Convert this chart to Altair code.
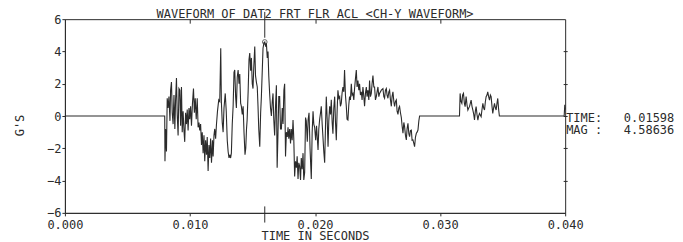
import altair as alt
import pandas as pd

title_text = "WAVEFORM OF DAT2 FRT FLR ACL <CH-Y WAVEFORM>"
x_title = "TIME IN SECONDS"
y_title = "G'S"
x_ticks = [0.0, 0.01, 0.02, 0.03, 0.04]
y_ticks = [-6, -4, -2, 0, 2, 4, 6]
cursor_time = 0.01598
cursor_mag = 4.58636
cursor_top_span = [6.45, 4.85]
cursor_bottom_span = [-5.6, -6.6]
readout_lines = ["TIME:\u00a0\u00a0\u00a00.01598", "MAG\u00a0:\u00a0\u00a0\u00a04.58636"]

# waveform: time in milliseconds, acceleration in G's
time_ms = [
    0.0, 7.98, 8.0, 8.05, 8.12, 8.18, 8.25, 8.32, 8.40, 8.45,
    8.52, 8.58, 8.65, 8.72, 8.79, 8.85, 8.92, 8.98, 9.05, 9.12,
    9.19, 9.25, 9.32, 9.38, 9.45, 9.52, 9.58, 9.65, 9.72, 9.78,
    9.85, 9.92, 9.98, 10.05, 10.12, 10.20, 10.28, 10.35, 10.42, 10.50,
    10.58, 10.65, 10.72, 10.78, 10.85, 10.92, 10.98, 11.05, 11.12, 11.18,
    11.25, 11.32, 11.38, 11.45, 11.52, 11.58, 11.65, 11.72, 11.80, 11.85,
    11.92, 11.98, 12.05, 12.12, 12.20, 12.30, 12.38, 12.46, 12.51, 12.58,
    12.65, 12.72, 12.82, 12.90, 12.98, 13.05, 13.12, 13.18, 13.25, 13.31,
    13.38, 13.45, 13.52, 13.58, 13.65, 13.71, 13.78, 13.85, 13.92, 13.98,
    14.05, 14.11, 14.18, 14.25, 14.32, 14.40, 14.46, 14.52, 14.57, 14.65,
    14.72, 14.78, 14.85, 14.91, 14.98, 15.04, 15.10, 15.18, 15.24, 15.31,
    15.38, 15.44, 15.50, 15.58, 15.65, 15.71, 15.78, 15.84, 15.92, 15.98,
    16.05, 16.11, 16.18, 16.24, 16.30, 16.37, 16.44, 16.51, 16.58, 16.64,
    16.70, 16.77, 16.84, 16.91, 16.97, 17.04, 17.10, 17.17, 17.24, 17.31,
    17.38, 17.44, 17.51, 17.57, 17.64, 17.71, 17.78, 17.84, 17.90, 17.97,
    18.04, 18.10, 18.17, 18.24, 18.30, 18.37, 18.44, 18.51, 18.57, 18.64,
    18.70, 18.77, 18.84, 18.90, 18.97, 19.04, 19.10, 19.17, 19.24, 19.30,
    19.38, 19.45, 19.52, 19.60, 19.70, 19.77, 19.84, 19.90, 19.97, 20.05,
    20.12, 20.24, 20.30, 20.37, 20.44, 20.50, 20.57, 20.64, 20.70, 20.77,
    20.84, 20.90, 20.97, 21.04, 21.10, 21.17, 21.24, 21.30, 21.37, 21.43,
    21.50, 21.57, 21.63, 21.70, 21.77, 21.83, 21.90, 21.97, 22.03, 22.10,
    22.16, 22.23, 22.30, 22.36, 22.43, 22.50, 22.56, 22.63, 22.70, 22.76,
    22.83, 22.90, 22.96, 23.03, 23.10, 23.16, 23.23, 23.30, 23.36, 23.43,
    23.50, 23.56, 23.63, 23.70, 23.76, 23.83, 23.90, 23.96, 24.03, 24.10,
    24.16, 24.23, 24.30, 24.36, 24.43, 24.50, 24.56, 24.63, 24.70, 24.76,
    24.83, 24.90, 24.96, 25.03, 25.10, 25.16, 25.30, 25.43, 25.50, 25.56,
    25.63, 25.70, 25.76, 25.83, 25.90, 25.96, 26.03, 26.10, 26.16, 26.23,
    26.30, 26.36, 26.43, 26.50, 26.56, 26.63, 26.70, 26.76, 26.83, 26.90,
    26.96, 27.03, 27.10, 27.16, 27.23, 27.30, 27.36, 27.43, 27.50, 27.56,
    27.63, 27.70, 27.76, 27.83, 27.90, 27.96, 28.03, 28.10, 28.16, 28.23,
    28.30, 28.36, 31.55, 31.60, 31.67, 31.74, 31.80, 31.87, 31.94, 32.00,
    32.08, 32.15, 32.22, 32.29, 32.35, 32.42, 32.48, 32.55, 32.62, 32.69,
    32.75, 32.82, 32.88, 32.95, 33.02, 33.08, 33.15, 33.22, 33.28, 33.35,
    33.42, 33.48, 33.55, 33.62, 33.68, 33.75, 33.81, 33.88, 33.95, 34.02,
    34.08, 34.15, 34.21, 34.28, 34.35, 34.42, 34.48, 34.55, 34.61, 34.68,
    34.74, 39.92, 39.97, 40.0,
]
gs = [
    0.0, 0.0, -2.8, -0.8, -2.2, 1.1, 0.5, 1.2, -0.3, 1.6,
    2.1, 0.2, -0.5, 1.3, -0.8, 1.0, 2.35, 0.1, -1.2, 1.7,
    1.6, -0.6, 1.8, -1.0, 0.3, -0.9, -1.6, 0.2, -0.5, 0.4,
    -0.9, 0.5, -0.2, 0.6, -0.6, 0.8, 1.7, 0.2, 1.1, -0.2,
    1.1, -0.7, -0.4, -0.9, -0.5, -1.8, -1.0, -2.3, -1.2, -2.8,
    -1.5, -2.4, -1.3, -3.4, -1.8, -2.6, -1.4, -2.9, -1.5, -2.5,
    -1.2, -0.8, -1.4, -0.5, 0.3, 1.0, 0.9, 4.2, 0.9, -0.4,
    -1.0, 0.5, 1.4, 0.3, -1.5, -2.2, -2.6, -2.4, -2.6, -2.3,
    -0.5, 0.6, 2.7, 2.85, 1.2, 0.5, 2.4, 2.85, 2.0, 2.6,
    0.8, 0.6, 0.1, 0.6, -1.0, -2.4, -2.0, -0.8, -0.25, 1.5,
    3.5, 3.9, 2.8, 3.6, 2.0, 1.7, 3.0, 4.3, 2.5, 2.1,
    1.8, 0.6, -0.8, -1.9, 0.2, 1.2, 2.8, 4.2, 4.55, 4.59,
    4.3, 4.5, 3.6, 4.0, 2.5, 1.4, 0.5, 0.0, 0.9, 1.4,
    -0.2, -1.2, 0.6, 1.9, -3.2, -1.0, 1.2, 1.2, -0.8, -0.8,
    0.5, -0.5, 1.6, 2.0, -2.5, -1.0, -1.3, -0.7, -1.4, -0.8,
    -1.7, -0.8, -1.5, -0.25, -1.4, -3.75, -2.8, -3.2, -2.5, -3.9,
    -2.9, -3.1, -3.96, -2.6, -3.3, -2.3, -3.96, -3.5, -0.1, -0.3,
    -1.6, -0.2, 0.2, -2.0, -3.9, -1.0, 0.3, -0.5, -0.7, -1.5,
    -0.6, -2.1, -0.8, -0.2, 0.2, 0.6, -0.5, -1.4, -2.2, -2.9,
    -0.5, 1.2, -0.2, -1.9, -0.3, 0.6, 0.1, 1.0, -0.4, -1.1,
    0.5, 1.2, -0.3, -1.5, 0.4, 1.6, 1.1, 1.2, 0.6, 0.8,
    1.4, 1.8, 1.5, 2.85, 1.3, 0.6, -0.2, -0.25, 0.7, 1.2,
    1.0, 2.0, 1.3, 1.4, 1.0, 1.7, 2.3, 2.85, 1.8, 2.2,
    1.6, 2.0, 1.3, 1.5, 1.0, 1.8, 1.2, 0.6, 1.4, 1.8,
    1.2, 1.6, 1.0, 2.2, 1.2, 1.4, 2.0, 2.5, 1.8, 1.8,
    1.0, 1.2, 1.5, 1.8, 1.2, 1.4, 1.6, 1.7, 1.2, 1.1,
    1.6, 1.7, 1.3, 1.1, 1.5, 1.6, 1.0, 0.6, 1.2, 1.5,
    0.9, 0.6, 0.9, 1.0, 0.3, 0.1, 0.5, 0.6, 0.2, -0.1,
    -0.6, -1.07, -0.4, -0.66, -1.2, -1.48, -0.8, -0.45, -1.1, -1.28,
    -0.9, -0.87, -1.5, -1.48, -1.7, -1.9, -1.3, -1.07, -1.0, -0.87,
    -0.3, 0.0, 0.0, 1.4, 0.9, 0.78, 1.3, 1.4, 0.8, 0.58,
    1.2, 0.7, 0.37, 0.5, 0.58, 0.8, 0.99, 0.6, 0.37, 0.1,
    -0.25, 0.3, 0.58, 0.1, -0.25, 0.0, 0.16, 0.05, -0.04, 0.4,
    0.78, 0.5, 0.37, 0.9, 1.2, 1.3, 1.5, 1.2, 0.99, 1.3,
    1.2, 0.6, 0.16, 0.5, 0.78, 0.5, 0.37, 0.8, 1.09, 0.4,
    0.0, 0.0, 0.7, 0.4,
]

df = pd.DataFrame({"t": [v / 1000.0 for v in time_ms], "g": gs})

FONT = "DejaVu Sans Mono"
INK = "#2b2b2b"
W, H = 501, 194

xs = alt.Scale(domain=[0, 0.04], nice=False, zero=False)
ys = alt.Scale(domain=[-6, 6], nice=False, zero=False)

line = alt.Chart(df).mark_line(color=INK, strokeWidth=1.1).encode(
    x=alt.X(
        "t:Q", scale=xs,
        axis=alt.Axis(
            orient="bottom", values=x_ticks, format=".3f", title=x_title,
            grid=False, domainColor=INK, tickColor=INK, tickSize=3,
            labelPadding=4, labelFont=FONT, labelFontSize=12, labelColor=INK,
            labelFlush=False, titleFont=FONT, titleFontSize=12,
            titleFontWeight="normal", titleColor=INK,
            titleX=W / 2, titleY=27, titleAlign="center",
            titleBaseline="alphabetic",
        ),
    ),
    y=alt.Y(
        "g:Q", scale=ys,
        axis=alt.Axis(
            orient="left", values=y_ticks, title=y_title, grid=False,
            domainColor=INK, tickColor=INK, tickSize=3, labelPadding=1,
            labelFont=FONT, labelFontSize=12, labelColor=INK, labelFlush=False,
            titleFont=FONT, titleFontSize=12, titleFontWeight="normal",
            titleColor=INK, titleAngle=270, titleX=-45, titleY=106,
            titleAlign="center", titleBaseline="middle",
        ),
    ),
)

peak = alt.Chart(pd.DataFrame({"t": [cursor_time], "g": [cursor_mag]})).mark_point(
    shape="circle", size=22, filled=False, color=INK, strokeWidth=1
).encode(
    x=alt.X(
        "t:Q", scale=xs,
        axis=alt.Axis(
            orient="top", values=[0.01, 0.02, 0.03], labels=False, title="",
            domain=False, grid=False, tickColor=INK, tickSize=4, offset=-4,
        ),
    ),
    y=alt.Y(
        "g:Q", scale=ys,
        axis=alt.Axis(
            orient="right", values=[-4, -2, 0, 2, 4], labels=False, title="",
            domain=False, grid=False, tickColor=INK, tickSize=4, offset=-2,
        ),
    ),
)

cur_top = alt.Chart(
    pd.DataFrame({"t": [cursor_time], "a": [cursor_top_span[0]], "b": [cursor_top_span[1]]})
).mark_rule(color=INK, strokeWidth=1).encode(
    x=alt.X("t:Q", scale=xs, axis=None),
    y=alt.Y("a:Q", scale=ys, axis=None),
    y2="b:Q",
)

cur_bot = alt.Chart(
    pd.DataFrame({"t": [cursor_time], "a": [cursor_bottom_span[0]], "b": [cursor_bottom_span[1]]})
).mark_rule(color=INK, strokeWidth=1).encode(
    x=alt.X("t:Q", scale=xs, axis=None),
    y=alt.Y("a:Q", scale=ys, axis=None),
    y2="b:Q",
)

txt1 = alt.Chart(pd.DataFrame({"s": [readout_lines[0]]})).mark_text(
    align="left", baseline="middle", font=FONT, fontSize=12, color=INK
).encode(x=alt.value(W + 1), y=alt.value(99), text="s:N")

txt2 = alt.Chart(pd.DataFrame({"s": [readout_lines[1]]})).mark_text(
    align="left", baseline="middle", font=FONT, fontSize=12, color=INK
).encode(x=alt.value(W + 1), y=alt.value(111), text="s:N")

title_mark = alt.Chart(pd.DataFrame({"s": [title_text]})).mark_text(
    align="center", baseline="middle", font=FONT, fontSize=12, color=INK
).encode(x=alt.value(W / 2), y=alt.value(-5), text="s:N")

chart = (
    alt.layer(line, peak, cur_top, cur_bot, txt1, txt2, title_mark)
    .resolve_axis(x="independent", y="independent")
    .properties(
        width=W, height=H,
        autosize="none",
        padding={"left": 57, "top": 11, "right": 110, "bottom": 30},
    )
    .configure_view(stroke=INK, strokeWidth=1)
)

chart.save("out.html", embed_options={"renderer": "svg", "actions": False})
